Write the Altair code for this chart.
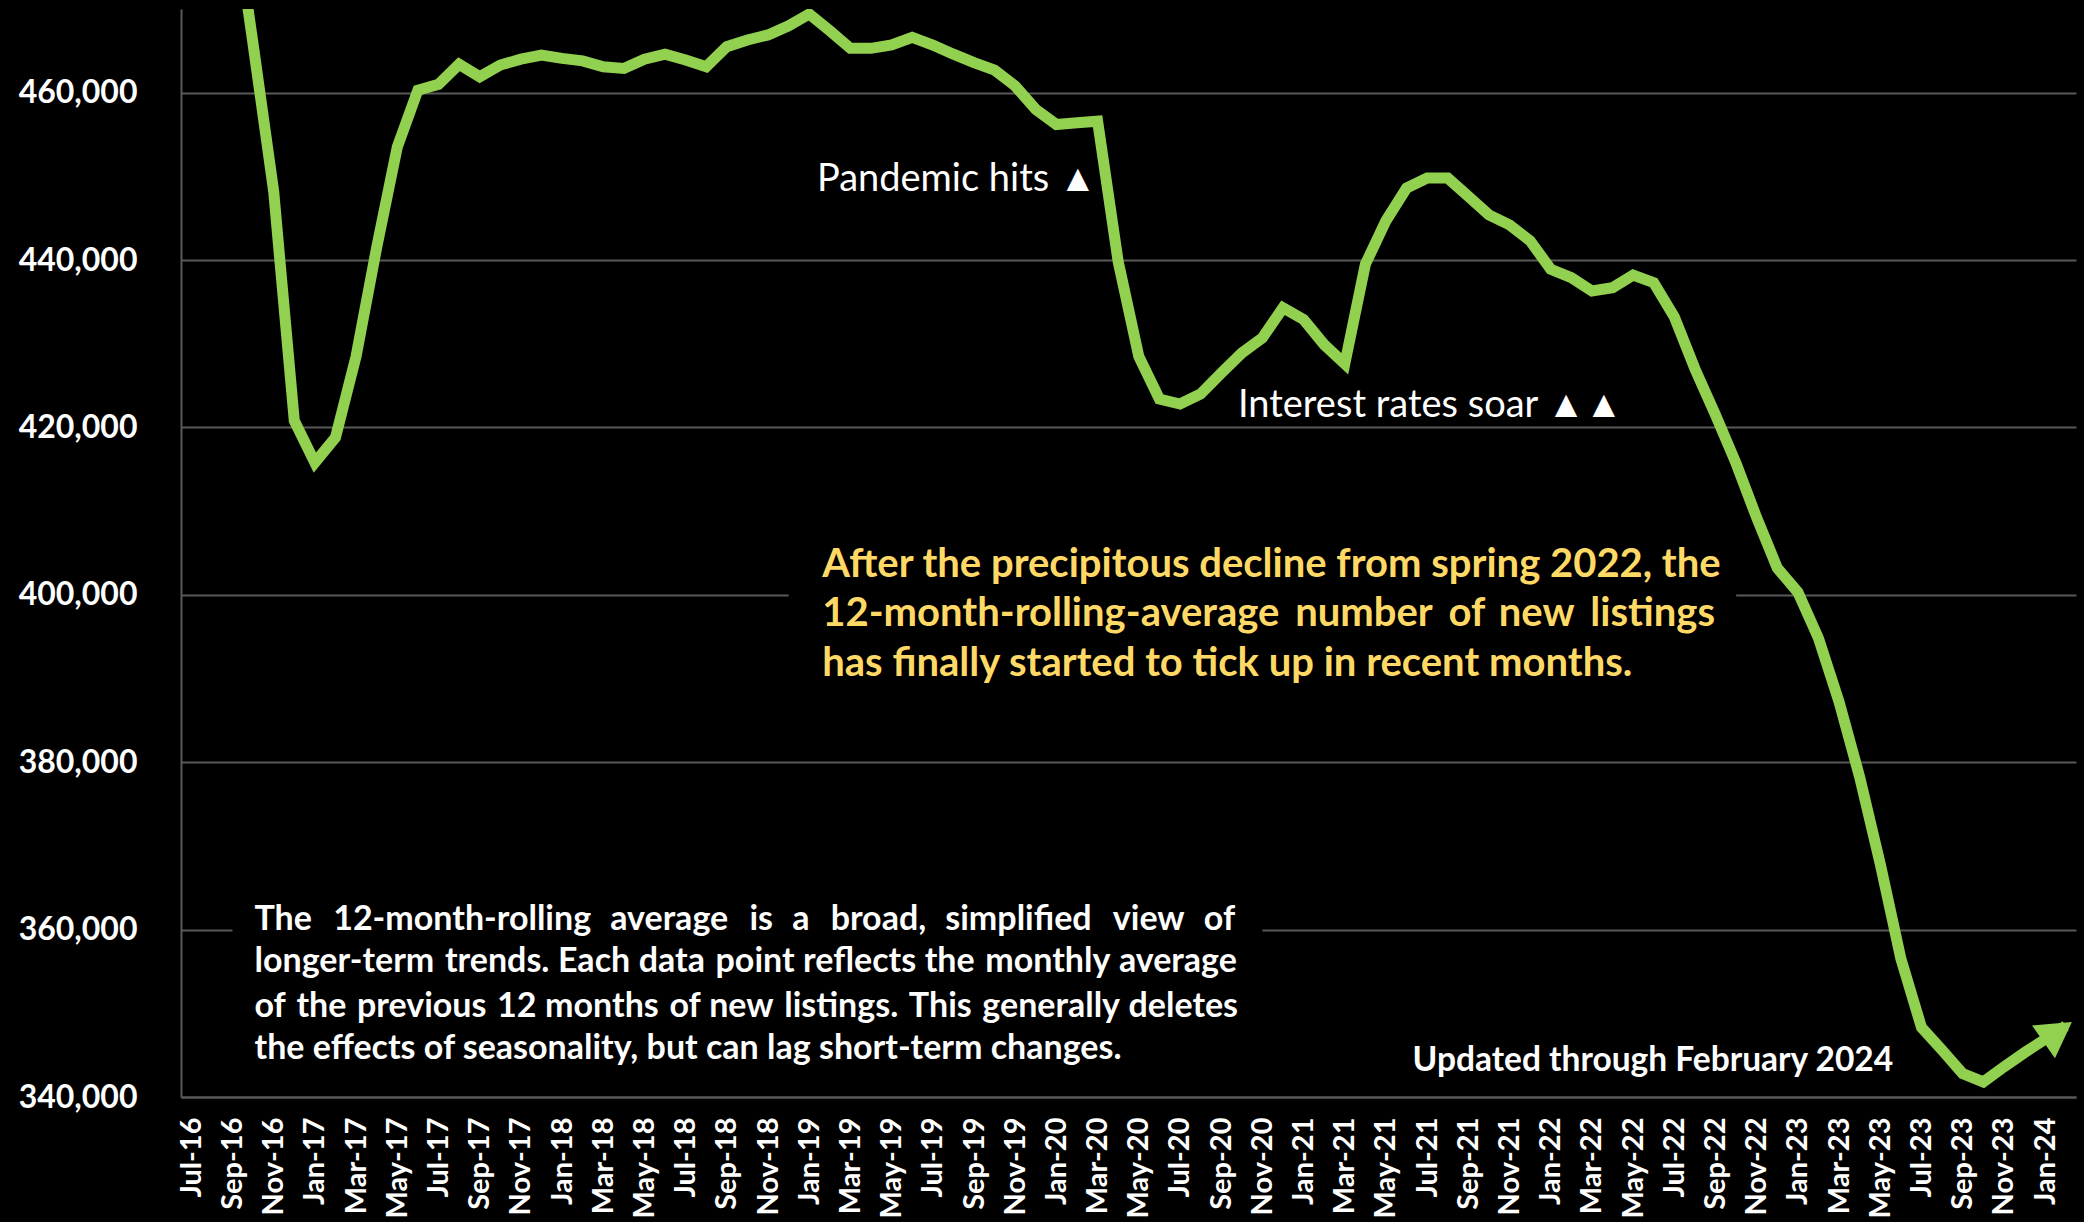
import altair as alt
import pandas as pd

MONTHS = [
    "Jul-16", "Aug-16", "Sep-16", "Oct-16", "Nov-16", "Dec-16",
    "Jan-17", "Feb-17", "Mar-17", "Apr-17", "May-17", "Jun-17",
    "Jul-17", "Aug-17", "Sep-17", "Oct-17", "Nov-17", "Dec-17",
    "Jan-18", "Feb-18", "Mar-18", "Apr-18", "May-18", "Jun-18",
    "Jul-18", "Aug-18", "Sep-18", "Oct-18", "Nov-18", "Dec-18",
    "Jan-19", "Feb-19", "Mar-19", "Apr-19", "May-19", "Jun-19",
    "Jul-19", "Aug-19", "Sep-19", "Oct-19", "Nov-19", "Dec-19",
    "Jan-20", "Feb-20", "Mar-20", "Apr-20", "May-20", "Jun-20",
    "Jul-20", "Aug-20", "Sep-20", "Oct-20", "Nov-20", "Dec-20",
    "Jan-21", "Feb-21", "Mar-21", "Apr-21", "May-21", "Jun-21",
    "Jul-21", "Aug-21", "Sep-21", "Oct-21", "Nov-21", "Dec-21",
    "Jan-22", "Feb-22", "Mar-22", "Apr-22", "May-22", "Jun-22",
    "Jul-22", "Aug-22", "Sep-22", "Oct-22", "Nov-22", "Dec-22",
    "Jan-23", "Feb-23", "Mar-23", "Apr-23", "May-23", "Jun-23",
    "Jul-23", "Aug-23", "Sep-23", "Oct-23", "Nov-23", "Dec-23",
    "Jan-24", "Feb-24",
]

NEW_LISTINGS_12M_AVG = [
    497000, 491000, 483000, 465800, 448200, 420800,
    415800, 418800, 428500, 441500, 453500, 460300,
    461000, 463400, 461900, 463300, 464000, 464500,
    464100, 463800, 463100, 462900, 464000, 464600,
    463900, 463100, 465500, 466300, 466900, 468000,
    469400, 467400, 465300, 465300, 465700, 466600,
    465700, 464600, 463600, 462700, 460800, 458000,
    456200, 456400, 456600, 439800, 428500, 423400,
    422800, 424000, 426500, 428900, 430700, 434300,
    432900, 429900, 427600, 439500, 444700, 448600,
    449800, 449800, 447600, 445400, 444200, 442300,
    438900, 437900, 436300, 436700, 438200, 437300,
    433200, 427000, 421500, 415700, 409200, 403200,
    400300, 394800, 387200, 378200, 367800, 356500,
    348300, 345600, 342800, 341800, 343600, 345300,
    346900, 348500,
]

TICK_LABELS = MONTHS[::2]
Y_TICKS = [340000, 360000, 380000, 400000, 420000, 440000, 460000]
Y_DOMAIN = [340000, 470000]

# text lines; the reference text is justified, so each gap between words
# gets its own (unicode) space
PARAGRAPH_WORDS = [
    "The 12-month-rolling average is a broad, simplified view of",
    "longer-term trends. Each data point reflects the monthly average",
    "of the previous 12 months of new listings. This generally deletes",
    "the effects of seasonality, but can lag short-term changes.",
]
EN, P4, P3, HAIR = "\u2002", "\u2005", "\u2004", "\u200A"
PARAGRAPH_GAPS = [
    [EN + HAIR + HAIR, EN + HAIR] * 4,
    [P4 + HAIR, P4, P4, P4 + HAIR, P4, P4, P4 + HAIR, P4],
    [P4 + HAIR, P4 + HAIR, P4 + HAIR, P4, P4 + HAIR, P4, P4 + HAIR, P4 + HAIR, P4 + HAIR, P4],
    [" "] * 8,
]
PARAGRAPH_Y = [359900, 354880, 349510, 344600]

YELLOW_WORDS = [
    "After the precipitous decline from spring 2022, the",
    "12-month-rolling-average number of new listings",
    "has finally started to tick up in recent months.",
]
YELLOW_GAPS = [
    [" "] * 7,
    [P3 + HAIR, P3 + HAIR, P3, P3 + HAIR],
    [" "] * 8,
]
YELLOW_Y = [402170, 396310, 390340]

GREEN = "#92D050"
GRID = "#595959"
FONT = "Lato"

df = pd.DataFrame({"month": MONTHS, "value": NEW_LISTINGS_12M_AVG})

xscale = alt.Scale(type="point", domain=MONTHS, padding=0.5)
yscale = alt.Scale(domain=Y_DOMAIN, nice=False, zero=False)

x_axis = alt.Axis(
    values=TICK_LABELS, labelAngle=-90, labelFont=FONT, labelFontSize=29,
    labelFontWeight="bold", labelColor="white", labelPadding=20, ticks=False,
    domain=True, domainColor=GRID, domainWidth=2, grid=False, title=None,
    labelOverlap=False,
)
y_axis = alt.Axis(
    values=Y_TICKS, format=",.0f", labelFont=FONT, labelFontSize=32,
    labelFontWeight="bold", labelColor="white", labelPadding=44, ticks=False,
    domain=True, domainColor=GRID, domainWidth=2, grid=True, gridColor=GRID,
    gridWidth=2, title=None,
)

X = alt.X("month:O", scale=xscale, axis=x_axis)
Y = alt.Y("value:Q", scale=yscale, axis=y_axis)

# black boxes behind the text blocks (they interrupt the gridlines)
boxes = pd.DataFrame({
    "m1": ["Sep-16", "Dec-18"], "m2": ["Nov-20", "Oct-22"],
    "v1": [364000, 404000], "v2": [356000, 396000],
})
box_layer = alt.Chart(boxes).mark_rect(color="black").encode(
    x=alt.X("m1:O", scale=xscale, axis=x_axis), x2="m2:O",
    y=alt.Y("v1:Q", scale=yscale, axis=y_axis), y2="v2:Q",
)

line = alt.Chart(df).mark_line(color=GREEN, strokeWidth=11, clip=True).encode(x=X, y=Y)

arrow = alt.Chart(df.tail(1)).mark_point(
    shape="triangle-right", filled=True, size=1600, angle=325,
    color=GREEN, opacity=1, xOffset=-8, yOffset=6,
).encode(x=X, y=Y)


def text_layer(rows, align, dx, size, weight, color):
    d = pd.DataFrame(rows, columns=["month", "value", "label"])
    return alt.Chart(d).mark_text(
        align=align, baseline="alphabetic", dx=dx, font=FONT, fontSize=size,
        fontWeight=weight, color=color,
    ).encode(x=X, y=Y, text="label:N")


def justify(lines, gaps):
    out = []
    for s, g in zip(lines, gaps):
        words = s.split(" ")
        txt = words[0]
        for gap, w in zip(g, words[1:]):
            txt += gap + w
        out.append(txt)
    return out


PARAGRAPH = justify(PARAGRAPH_WORDS, PARAGRAPH_GAPS)
YELLOW = justify(YELLOW_WORDS, YELLOW_GAPS)

pandemic = text_layer([("Mar-20", 448230, "Pandemic hits \u25B2")], "right", -1, 38, "normal", "white")
rates = text_layer([("Apr-22", 421270, "Interest rates soar \u25B2\u25B2")], "right", 10, 38, "normal", "white")
updated = text_layer([("Jun-21", 343050, "Updated through February 2024")], "left", 6, 33.5, "bold", "white")
para = text_layer([("Sep-16", v, t) for v, t in zip(PARAGRAPH_Y, PARAGRAPH)], "left", 22, 34, "bold", "white")
yellow = text_layer([("Jan-19", v, t) for v, t in zip(YELLOW_Y, YELLOW)], "left", 13, 40, "bold", "#FFD966")

chart = alt.layer(box_layer, line, arrow, pandemic, rates, updated, para, yellow).properties(
    width=1895, height=1088,
    padding={"left": 181, "top": 9, "right": 8, "bottom": 125},
    autosize=alt.AutoSizeParams(type="none"),
    background="black",
).configure_view(strokeWidth=0)

chart.save("out.html", embed_options={"renderer": "svg", "actions": False})
